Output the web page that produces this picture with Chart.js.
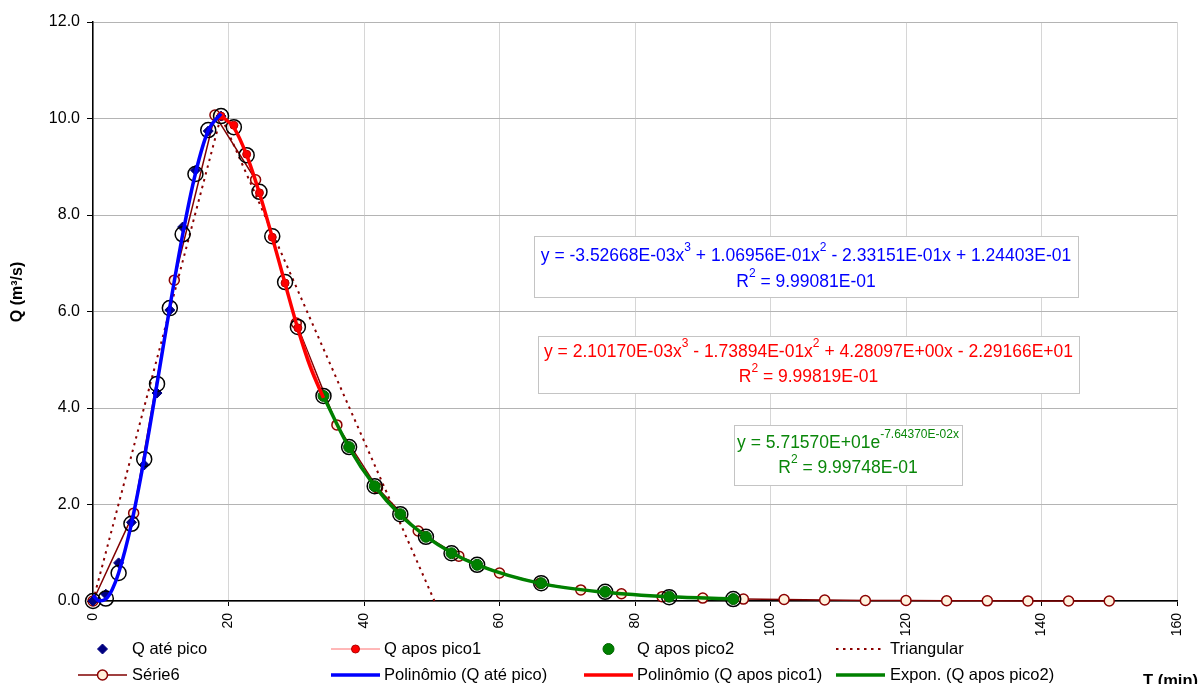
<!DOCTYPE html>
<html>
<head>
<meta charset="utf-8">
<script src="https://cdn.jsdelivr.net/npm/chart.js@4/dist/chart.umd.min.js"></script>
<style>
  html, body { margin: 0; padding: 0; background: #fff; }
  #wrap { width: 1202px; height: 684px; }
</style>
</head>
<body>
<div id="wrap"><canvas id="hidro" width="1202" height="684"></canvas></div>
<script>
// tempos (min) e vazões (m³/s)
const tObs = [0, 1.89, 3.78, 5.67, 7.56, 9.45, 11.34, 13.23, 15.12, 17.01, 18.9, 20.79, 22.68, 24.57, 26.46, 28.35, 30.24, 34.02, 37.8, 41.58, 45.36, 49.14, 52.92, 56.7, 66.15, 75.6, 85.05, 94.5];
const qObs = [0, 0.05, 0.58, 1.6, 2.94, 4.5, 6.07, 7.6, 8.85, 9.76, 10.05, 9.82, 9.24, 8.48, 7.56, 6.61, 5.68, 4.25, 3.19, 2.38, 1.8, 1.33, 0.99, 0.75, 0.37, 0.19, 0.08, 0.04];

const tPre = [0, 1.89, 3.78, 5.67, 7.56, 9.45, 11.34, 13.23, 15.12, 17.01, 18.9];
const qPre = [0, 0.14, 0.79, 1.63, 2.82, 4.31, 6.03, 7.75, 8.93, 9.74, 10.05];

const tPos1 = [18.9, 20.79, 22.68, 24.57, 26.46, 28.35, 30.24, 34.02];
const qPos1 = [10.05, 9.86, 9.26, 8.46, 7.54, 6.59, 5.66, 4.25];

const tPos2 = [34.02, 37.8, 41.58, 45.36, 49.14, 52.92, 56.7, 66.15, 75.6, 85.05, 94.5];
const qPos2 = [4.25, 3.19, 2.38, 1.8, 1.33, 0.99, 0.75, 0.37, 0.19, 0.09, 0.04];

const tTri = [0, 18.9, 50.4];
const qTri = [0, 10.05, 0];

const tS6 = [0, 6, 12, 18, 24, 30, 36, 42, 48, 54, 60, 66, 72, 78, 84, 90, 96, 102, 108, 114, 120, 126, 132, 138, 144, 150];
const qS6 = [0, 1.82, 6.65, 10.07, 8.73, 5.76, 3.65, 2.34, 1.45, 0.93, 0.58, 0.37, 0.23, 0.15, 0.09, 0.06, 0.04, 0.03, 0.02, 0.01, 0.01, 0.005, 0.003, 0.002, 0.001, 0.001];

// linhas de tendência
const tFitPre = [0, 0.95, 1.89, 2.84, 3.78, 5.67, 7.56, 9.45, 11.34, 13.23, 15.12, 17.01, 18.9];
const qFitPre = [0.12, 0.0, 0.04, 0.24, 0.58, 1.6, 2.95, 4.5, 6.09, 7.59, 8.86, 9.75, 10.1];
const tFitPos1 = [18.9, 20.79, 22.68, 24.57, 26.46, 28.35, 30.24, 32.13, 34.02];
const qFitPos1 = [10.06, 9.81, 9.24, 8.45, 7.54, 6.58, 5.64, 4.83, 4.21];
const tFitPos2 = [34.02, 37.8, 41.58, 45.36, 49.14, 52.92, 56.7, 66.15, 75.6, 85.05, 94.5];
const qFitPos2 = [4.24, 3.18, 2.38, 1.78, 1.34, 1.0, 0.75, 0.36, 0.18, 0.086, 0.042];

const xTicks = [0, 20, 40, 60, 80, 100, 120, 140, 160];
const yTicks = [0, 2, 4, 6, 8, 10, 12];

const FONT = "'Liberation Sans', Arial, sans-serif";
Chart.defaults.font.family = FONT;
Chart.defaults.font.size = 16;
Chart.defaults.color = '#000';

const pts = (xs, ys) => xs.map((x, i) => ({ x: x, y: ys[i] }));

// caixas das equações
const equations = [
  { box: [534, 236, 544, 61], color: '#0000ff', rows: [256, 282], lines: [
      [[ 'y = -3.52668E-03x' ], [ '3', 1 ], [ ' + 1.06956E-01x' ], [ '2', 1 ], [ ' - 2.33151E-01x + 1.24403E-01' ]],
      [[ 'R' ], [ '2', 1 ], [ ' = 9.99081E-01' ]] ] },
  { box: [538, 336, 541, 57], color: '#ff0000', rows: [352, 377], lines: [
      [[ 'y = 2.10170E-03x' ], [ '3', 1 ], [ ' - 1.73894E-01x' ], [ '2', 1 ], [ ' + 4.28097E+00x - 2.29166E+01' ]],
      [[ 'R' ], [ '2', 1 ], [ ' = 9.99819E-01' ]] ] },
  { box: [734, 425, 228, 60], color: '#0a870a', rows: [443, 468], lines: [
      [[ 'y = 5.71570E+01e' ], [ '-7.64370E-02x', 1 ]],
      [[ 'R' ], [ '2', 1 ], [ ' = 9.99748E-01' ]] ] }
];

function drawRich(ctx, parts, cx, y, size) {
  const sup = Math.round(size * 0.66);
  let total = 0;
  parts.forEach(p => {
    ctx.font = (p[1] ? sup : size) + 'px ' + FONT;
    total += ctx.measureText(p[0]).width;
  });
  let x = cx - total / 2;
  ctx.textAlign = 'left';
  ctx.textBaseline = 'middle';
  parts.forEach(p => {
    ctx.font = (p[1] ? sup : size) + 'px ' + FONT;
    ctx.fillText(p[0], x, p[1] ? y - size * 0.45 : y);
    x += ctx.measureText(p[0]).width;
  });
}

const legendCols = [78, 331, 584, 836];
const legendText = [132, 384, 637, 890];
const legendRows = [649, 675];

const extras = {
  id: 'extras',
  afterDatasetsDraw(chart) {
    const ctx = chart.ctx;
    ctx.save();
    equations.forEach(eq => {
      const [bx, by, bw, bh] = eq.box;
      ctx.fillStyle = '#fff';
      ctx.fillRect(bx, by, bw, bh);
      ctx.strokeStyle = '#c4c4c4';
      ctx.lineWidth = 1;
      ctx.strokeRect(bx + 0.5, by + 0.5, bw, bh);
      ctx.fillStyle = eq.color;
      const cx = bx + bw / 2;
      drawRich(ctx, eq.lines[0], cx, eq.rows[0], 17.5);
      drawRich(ctx, eq.lines[1], cx, eq.rows[1], 17.5);
    });
    ctx.restore();
  },
  afterDraw(chart) {
    const ctx = chart.ctx;
    ctx.save();
    // legenda
    chart.data.datasets.forEach(ds => {
      if (ds.slot === undefined) return;
      const col = ds.slot % 4, row = Math.floor(ds.slot / 4);
      const x0 = legendCols[col], x1 = x0 + 49, y = legendRows[row];
      if (ds.showLine) {
        ctx.strokeStyle = ds.borderColor;
        ctx.lineWidth = ds.borderWidth;
        ctx.setLineDash(ds.borderDash || []);
        ctx.beginPath();
        ctx.moveTo(x0, y);
        ctx.lineTo(x1, y);
        ctx.stroke();
        ctx.setLineDash([]);
      }
      if (ds.pointRadius > 0) {
        ctx.fillStyle = ds.pointBackgroundColor;
        ctx.strokeStyle = ds.pointBorderColor;
        ctx.lineWidth = ds.pointBorderWidth;
        Chart.helpers.drawPoint(ctx, {
          pointStyle: ds.pointStyle || 'circle',
          radius: ds.pointRadius,
          borderWidth: ds.pointBorderWidth,
          rotation: 0
        }, (x0 + x1) / 2, y);
      }
      ctx.fillStyle = '#000';
      ctx.font = '16.5px ' + FONT;
      ctx.textAlign = 'left';
      ctx.textBaseline = 'middle';
      ctx.fillText(ds.label, legendText[col], y);
    });
    // títulos dos eixos
    ctx.font = 'bold 16.5px ' + FONT;
    ctx.fillStyle = '#000';
    ctx.textBaseline = 'middle';
    ctx.textAlign = 'left';
    ctx.fillText('T (min)', 1143, 681);
    ctx.translate(18, 292);
    ctx.rotate(-Math.PI / 2);
    ctx.textAlign = 'center';
    ctx.font = 'bold 16px ' + FONT;
    ctx.fillText('Q (m³/s)', 0, 0);
    ctx.restore();
  }
};

new Chart(document.getElementById('hidro'), {
  type: 'scatter',
  data: {
    datasets: [
      {
        label: 'Polinômio (Q até pico)', slot: 5, order: 0,
        data: pts(tFitPre, qFitPre), showLine: true, cubicInterpolationMode: 'monotone',
        borderColor: '#0000ff', borderWidth: 3.5, pointRadius: 0
      },
      {
        label: 'Polinômio (Q apos pico1)', slot: 6, order: 0,
        data: pts(tFitPos1, qFitPos1), showLine: true, cubicInterpolationMode: 'monotone',
        borderColor: '#ff0000', borderWidth: 3.5, pointRadius: 0
      },
      {
        label: 'Expon. (Q apos pico2)', slot: 7, order: 0,
        data: pts(tFitPos2, qFitPos2), showLine: true, cubicInterpolationMode: 'monotone',
        borderColor: '#008000', borderWidth: 3.5, pointRadius: 0
      },
      {
        label: 'Q observada', order: 1,
        data: pts(tObs, qObs), showLine: false,
        pointRadius: 7.5, pointBorderWidth: 1.5, pointBorderColor: '#000', pointBackgroundColor: 'rgba(0,0,0,0)'
      },
      {
        label: 'Q apos pico2', slot: 2, order: 2,
        data: pts(tPos2, qPos2), showLine: false,
        pointRadius: 5.5, pointBorderWidth: 1, pointBorderColor: '#006400', pointBackgroundColor: '#008000'
      },
      {
        label: 'Q apos pico1', slot: 1, order: 3,
        data: pts(tPos1, qPos1), showLine: true,
        borderColor: '#ff7070', borderWidth: 1,
        pointRadius: 4, pointBorderWidth: 1, pointBorderColor: '#b00000', pointBackgroundColor: '#ff0000'
      },
      {
        label: 'Q até pico', slot: 0, order: 4,
        data: pts(tPre, qPre), showLine: false,
        pointStyle: 'rectRot', pointRadius: 5, pointBorderWidth: 1,
        pointBorderColor: '#000080', pointBackgroundColor: '#000080'
      },
      {
        label: 'Série6', slot: 4, order: 5,
        data: pts(tS6, qS6), showLine: true,
        borderColor: '#800000', borderWidth: 1.5,
        pointRadius: 5, pointBorderWidth: 1.5, pointBorderColor: '#8b0000', pointBackgroundColor: '#fff1dc'
      },
      {
        label: 'Triangular', slot: 3, order: 6,
        data: pts(tTri, qTri), showLine: true,
        borderColor: '#8b0000', borderWidth: 2, borderDash: [2.5, 4.5], pointRadius: 0
      }
    ]
  },
  options: {
    responsive: false,
    animation: false,
    devicePixelRatio: 1,
    clip: false,
    layout: { padding: { left: 0, right: 25, top: 22, bottom: 0 } },
    plugins: { legend: { display: false }, tooltip: { enabled: false } },
    scales: {
      x: {
        type: 'linear', min: 0, max: 160,
        afterBuildTicks: s => { s.ticks = xTicks.map(v => ({ value: v })); },
        afterFit: s => { s.height = 83; },
        ticks: { minRotation: 90, maxRotation: 90, padding: 7, font: { size: 14 } },
        grid: { color: '#d6d6d6', tickColor: '#000', tickLength: 5, lineWidth: 1 },
        border: { color: '#000', width: 1.5 }
      },
      y: {
        min: 0, max: 12,
        afterBuildTicks: s => { s.ticks = yTicks.map(v => ({ value: v })); },
        afterFit: s => { s.width = 93; },
        ticks: { padding: 7, font: { size: 16 }, callback: v => v.toFixed(1) },
        grid: { color: '#b4b4b4', tickColor: '#000', tickLength: 6, lineWidth: 1 },
        border: { color: '#000', width: 1.5 }
      }
    }
  },
  plugins: [extras]
});
</script>
</body>
</html>
